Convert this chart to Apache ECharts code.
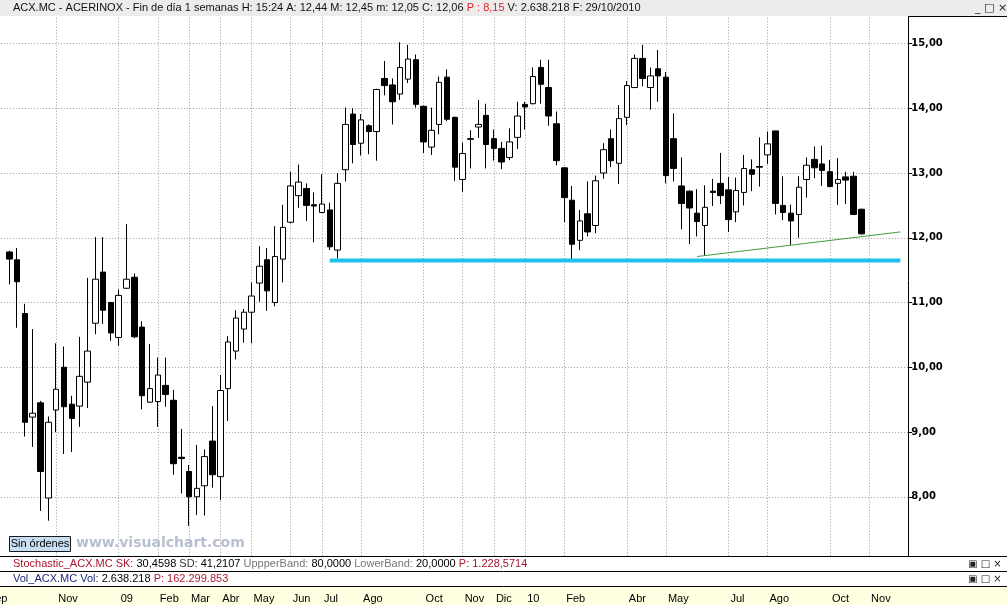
<!DOCTYPE html>
<html><head><meta charset="utf-8">
<script src="https://cdn.jsdelivr.net/npm/echarts@6/dist/echarts.min.js"></script>
<style>html,body{margin:0;padding:0;background:#fff;overflow:hidden}#c{width:1007px;height:605px}</style>
</head><body><div id="c"></div>
<script>
// ---- data ----
const weekStart = '2008-09-01';
const weekCount = 119;
const firstCandleWeek = '2008-09-22';
const openP = [11.78,11.66,10.83,9.23,9.45,7.98,9.34,10.00,9.43,9.40,
  9.77,10.68,11.47,11.00,10.46,11.22,11.39,10.62,9.46,9.47,
  9.72,9.49,8.61,8.39,8.00,8.17,8.86,8.31,9.67,10.25,
  10.59,10.85,11.30,11.66,11.00,11.67,12.24,12.65,12.76,12.51,
  12.39,12.43,11.81,13.05,13.91,13.46,13.73,13.64,14.46,14.36,
  14.22,14.45,14.75,14.03,13.40,13.75,14.48,13.86,12.90,13.53,
  13.71,13.89,13.53,13.38,13.24,13.55,14.06,14.07,14.63,14.32,
  13.76,13.08,12.58,11.96,12.37,12.19,13.00,13.53,13.15,13.86,
  14.32,14.77,14.32,14.61,14.48,13.53,12.80,12.72,12.38,12.19,
  12.72,12.84,12.74,12.40,12.70,13.05,13.10,13.28,13.65,12.50,
  12.38,12.36,12.90,13.21,13.14,13.02,12.84,12.94,12.95,12.44];
const closeP = [11.67,11.32,9.15,9.29,8.39,9.15,9.66,9.39,9.21,9.86,
  10.25,11.36,10.88,10.53,11.11,11.36,10.47,9.56,9.67,9.88,
  9.58,8.51,8.59,8.00,8.13,8.62,8.34,9.64,10.39,10.76,
  10.85,11.10,11.56,11.18,11.71,12.16,12.80,12.86,12.50,12.49,
  12.52,11.86,12.84,13.75,13.44,13.82,13.64,14.29,14.35,14.10,
  14.63,14.76,14.06,13.48,13.66,14.40,13.83,13.09,13.30,13.52,
  13.75,13.44,13.38,13.17,13.48,13.88,14.02,14.49,14.37,13.88,
  13.19,12.62,11.90,12.26,12.09,12.88,13.36,13.19,13.84,14.35,
  14.77,14.46,14.50,14.50,12.96,13.07,12.53,12.46,12.25,12.47,
  12.70,12.65,12.28,12.73,13.07,12.98,13.09,13.45,12.53,12.39,
  12.26,12.78,13.12,13.08,13.04,12.79,12.90,12.89,12.36,12.06];
const lowP = [11.28,10.61,8.93,8.77,7.78,7.63,9.00,8.66,8.69,9.08,
  9.37,10.51,10.67,10.41,10.33,11.21,10.45,9.35,9.45,9.08,
  9.39,8.34,8.05,7.55,7.72,7.71,8.14,7.95,9.17,10.12,
  10.38,10.37,11.01,10.87,10.94,11.31,12.22,12.46,12.26,11.93,
  12.38,11.81,11.68,12.87,13.15,13.27,13.29,13.19,14.20,13.75,
  14.13,14.39,14.01,13.31,13.28,13.60,13.80,12.88,12.71,13.07,
  13.54,13.07,13.19,13.06,13.20,13.37,13.67,14.06,14.07,13.73,
  13.12,12.24,11.67,11.81,12.02,12.07,12.91,13.09,12.83,13.74,
  14.31,14.34,13.98,14.10,12.84,12.87,12.13,11.90,12.02,11.72,
  12.49,12.52,12.09,12.24,12.50,12.72,12.79,13.14,12.36,12.27,
  11.89,12.00,12.62,12.92,12.80,12.78,12.51,12.52,12.35,12.05];
const highP = [11.80,11.84,10.98,10.59,9.48,9.24,10.37,10.32,9.56,10.47,
  11.38,12.01,12.01,11.01,11.20,12.21,11.45,10.71,10.36,10.15,
  10.15,9.65,9.05,8.49,8.80,8.73,9.40,9.88,10.48,10.88,
  10.90,11.31,11.87,11.84,12.18,12.51,13.02,13.13,12.84,12.70,
  12.98,12.54,13.00,14.01,14.00,13.91,13.75,14.30,14.73,14.46,
  15.02,14.98,14.83,14.04,14.01,14.49,14.60,13.87,13.47,13.66,
  14.13,14.07,13.67,13.48,13.69,14.10,14.10,14.63,14.75,14.75,
  13.95,13.09,12.80,12.43,12.87,12.96,13.46,13.67,14.05,14.42,
  14.83,14.98,14.63,14.90,14.56,13.92,13.24,12.73,12.75,12.81,
  12.91,13.31,12.94,12.93,13.28,13.21,13.55,13.64,13.65,12.95,
  12.51,12.95,13.24,13.41,13.42,13.20,13.23,13.02,13.02,12.45];
const tickWeeks = ['2008-09-01','2008-11-03','2008-12-29','2009-02-02','2009-03-02','2009-03-30','2009-04-27',
  '2009-06-01','2009-06-29','2009-08-03','2009-09-28','2009-11-02','2009-11-30','2009-12-28','2010-02-01',
  '2010-03-29','2010-05-03','2010-06-28','2010-08-02','2010-09-27','2010-11-01'];
const tickLabels = ['Sep','Nov','09','Feb','Mar','Abr','May','Jun','Jul','Ago','Oct','Nov','Dic','10','Feb',
  'Abr','May','Jul','Ago','Oct','Nov'];
const supportWeeks = ['2009-07-06','2010-11-29'];
const supportLevels = [11.65, 11.65];
const trendWeeks = ['2010-05-31','2010-11-29'];
const trendLevels = [11.71, 12.09];

// ---- build ----
const weeks = [];
for (let i = 0; i < weekCount; i++) {
  const d = new Date(Date.parse(weekStart + 'T00:00:00Z') + i * 7 * 86400000);
  weeks.push(d.toISOString().slice(0, 10));
}
const firstIdx = weeks.indexOf(firstCandleWeek);
const candles = openP.map((o, i) => [weeks[firstIdx + i], o, closeP[i], lowP[i], highP[i]]);
const tickIdx = new Set(tickWeeks.map(w => weeks.indexOf(w)));
const labelOf = {};
tickWeeks.forEach((w, i) => labelOf[w] = tickLabels[i]);

const STEP = 7.8165;
const GL = 9.3 - firstIdx * STEP;          // grid left so first candle lands at x≈9
const GW = (weekCount - 1) * STEP;

const chart = echarts.init(document.getElementById('c'), null, {renderer: 'canvas'});
const F11 = '11px "Liberation Sans", Arial, sans-serif';
const txt = (t, x, y, rich, extra) => ({type: 'text', z: 101, style: Object.assign({x, y, text: t, rich, verticalAlign: 'middle', font: F11, fill: '#000'}, extra || {})});

chart.setOption({
  animation: false,
  backgroundColor: '#fff',
  grid: [
    {left: GL, width: GW, top: -21.25, height: 582.75, containLabel: false, outerBoundsMode: 'none'},
    {left: GL, width: GW, top: 587, height: 18, show: false, outerBoundsMode: 'none'}
  ],
  xAxis: [
    {type: 'category', gridIndex: 0, data: weeks, boundaryGap: false,
      axisLine: {show: false}, axisTick: {show: false}, axisLabel: {show: false},
      splitLine: {show: true, interval: (i) => tickIdx.has(i), lineStyle: {color: '#9a9a9a', width: 1, type: [1, 2]}}},
    {type: 'category', gridIndex: 1, data: weeks, boundaryGap: false, position: 'top',
      axisLine: {show: false},
      axisTick: {show: true, inside: true, length: 5, interval: (i) => tickIdx.has(i), lineStyle: {color: '#000'}},
      axisLabel: {show: true, inside: true, interval: (i) => tickIdx.has(i), formatter: (v) => labelOf[v] || '',
        align: 'left', margin: 6, padding: [0, 0, 0, 2], color: '#000', fontSize: 11, fontFamily: '"Liberation Sans", Arial, sans-serif'},
      splitLine: {show: false}}
  ],
  yAxis: [
    {type: 'value', gridIndex: 0, position: 'right', min: 7, max: 16, interval: 1,
      axisLine: {show: true, lineStyle: {color: '#000', width: 1}},
      axisTick: {show: true, length: 4, lineStyle: {color: '#000'}},
      axisLabel: {formatter: (v) => (v <= 7 || v >= 16) ? '' : v.toFixed(2).replace('.', ','),
        fontFamily: '"DejaVu Sans", sans-serif', fontWeight: 'bold', fontSize: 10, color: '#000', margin: 3},
      splitLine: {show: true, lineStyle: {color: '#9a9a9a', width: 1, type: [1, 2]}}},
    {type: 'value', gridIndex: 1, show: false}
  ],
  series: [
    {type: 'candlestick', xAxisIndex: 0, yAxisIndex: 0, data: candles, encode: {x: 0, y: [1, 2, 3, 4]},
      barWidth: 6, silent: true,
      itemStyle: {color: '#ffffff', color0: '#000000', borderColor: '#000000', borderColor0: '#000000', borderColorDoji: '#000000', borderWidth: 1}},
    {type: 'line', xAxisIndex: 0, yAxisIndex: 0, data: supportWeeks.map((w, i) => [w, supportLevels[i]]),
      symbol: 'none', silent: true, z: 3, lineStyle: {color: '#1ec1ec', width: 4, cap: 'butt'}},
    {type: 'line', xAxisIndex: 0, yAxisIndex: 0, data: trendWeeks.map((w, i) => [w, trendLevels[i]]),
      symbol: 'none', silent: true, z: 3, lineStyle: {color: '#3e9e3e', width: 1}}
  ],
  graphic: [
    // x-axis strip background
    {type: 'rect', z: -10, shape: {x: 0, y: 587, width: 1007, height: 18}, style: {fill: '#ffffe1'}},
    // header bar
    {type: 'rect', z: 100, shape: {x: 0, y: 0, width: 1007, height: 16}, style: {fill: '#ececec'}},
    {type: 'line', z: 100, shape: {x1: 908, y1: 16.5, x2: 1007, y2: 16.5}, style: {stroke: '#000', lineWidth: 1}},
    txt('{a|ACX.MC - ACERINOX - Fin de día 1 semanas H: 15:24 A: 12,44 M: 12,45 m: 12,05 C: 12,06 }{r|P : 8,15}{a| V: 2.638.218 F: 29/10/2010}', 13, 8,
      {a: {fill: '#111', font: F11}, r: {fill: '#e0202a', font: F11}}),
    txt('_ □ ×', 975, 8, null, {font: '11px "DejaVu Sans", sans-serif', fill: '#222'}),
    // bottom panels
    {type: 'rect', z: 100, shape: {x: 0, y: 556, width: 1007, height: 31}, style: {fill: '#fff'}},
    {type: 'line', z: 100, shape: {x1: 0, y1: 556.5, x2: 1007, y2: 556.5}, style: {stroke: '#000', lineWidth: 1}},
    {type: 'line', z: 100, shape: {x1: 0, y1: 571.5, x2: 1007, y2: 571.5}, style: {stroke: '#000', lineWidth: 1}},
    {type: 'line', z: 100, shape: {x1: 0, y1: 586.5, x2: 1007, y2: 586.5}, style: {stroke: '#000', lineWidth: 1}},
    txt('{r|Stochastic_ACX.MC SK: }{k|30,4598 }{d|SD: }{k|41,2107 }{g|UppperBand: }{k|80,0000 }{g|LowerBand: }{k|20,0000 }{r|P: 1.228,5714}', 13, 564,
      {r: {fill: '#a8152c', font: F11}, k: {fill: '#000', font: F11}, d: {fill: '#333', font: F11}, g: {fill: '#777', font: F11}}),
    txt('{b|Vol_ACX.MC Vol: }{k|2.638.218 }{r|P: 162.299.853}', 13, 579,
      {b: {fill: '#1c2a7a', font: F11}, k: {fill: '#000', font: F11}, r: {fill: '#b0182c', font: F11}}),
    txt('▣ □ ×', 968, 564, null, {font: '10px "DejaVu Sans", sans-serif', fill: '#222'}),
    txt('▣ □ ×', 968, 579, null, {font: '10px "DejaVu Sans", sans-serif', fill: '#222'}),
    // watermark + button
    {type: 'rect', z: 100, shape: {x: 9.5, y: 536.5, width: 61, height: 15}, style: {fill: '#c8def3', stroke: '#1a1a1a', lineWidth: 1}},
    txt('Sin órdenes', 40, 544, null, {align: 'center'}),
    txt('www.visualchart.com', 76, 543, null, {font: 'bold 14px "DejaVu Sans", sans-serif', fill: '#b7bfd0'})
  ]
});
</script>
</body></html>
